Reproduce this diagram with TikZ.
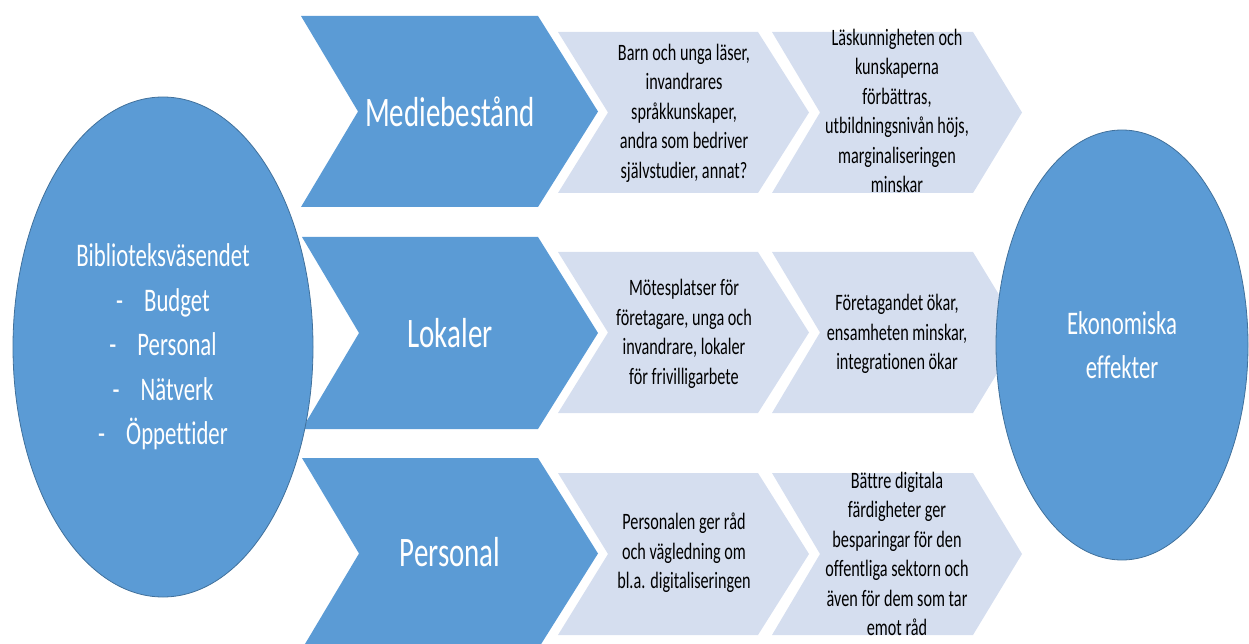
\documentclass[tikz,border=0pt]{standalone}
\usepackage{fontspec}
\setmainfont{Carlito}[FakeStretch=0.69, Ligatures={NoCommon}]
\usetikzlibrary{shapes.geometric}
\definecolor{mblue}{HTML}{5B9BD5}
\definecolor{mline}{HTML}{41719C}
\definecolor{mlight}{HTML}{D5DEEF}
\begin{document}
\begin{tikzpicture}[x=1pt,y=-1pt,
  bigchev/.style={fill=mblue},
  lightchev/.style={fill=mlight},
  bigtxt/.style={text=white, inner sep=0, font=\fontsize{42}{50}\selectfont},
  smalltxt/.style={text=black, align=center, inner sep=0, font=\fontsize{23.5}{29.5}\selectfont},
  ellnode/.style={ellipse, draw=mline, line width=0.8pt, fill=mblue, text=white, align=center, inner sep=0, font=\fontsize{33}{44.5}\selectfont}]
\useasboundingbox (0,0) rectangle (1249,644);
% big blue chevrons
\fill[bigchev] (301,16) -- (538,16) -- (598,111.5) -- (538,207) -- (301,207) -- (358,111.5) -- cycle;
\fill[bigchev] (302,237) -- (538,237) -- (598,333) -- (538,429) -- (302,429) -- (359,333) -- cycle;
\fill[bigchev] (302,458) -- (538,458) -- (598,553.5) -- (538,649) -- (302,649) -- (359,553.5) -- cycle;
% light chevrons, column 1
\fill[lightchev] (558,32) -- (758,32) -- (809,112.5) -- (758,193) -- (558,193) -- (608,112.5) -- cycle;
\fill[lightchev] (558,252) -- (758,252) -- (809,332.5) -- (758,413) -- (558,413) -- (608,332.5) -- cycle;
\fill[lightchev] (558,473) -- (758,473) -- (809,554) -- (758,635) -- (558,635) -- (608,554) -- cycle;
% light chevrons, column 2
\fill[lightchev] (772,32) -- (973,32) -- (1022,112.5) -- (973,193) -- (772,193) -- (820,112.5) -- cycle;
\fill[lightchev] (772,252) -- (973,252) -- (1022,332.5) -- (973,413) -- (772,413) -- (820,332.5) -- cycle;
\fill[lightchev] (772,473) -- (973,473) -- (1022,554) -- (973,635) -- (772,635) -- (820,554) -- cycle;
% big labels
\node[bigtxt] (medie) at (450,112) {Mediebestånd};
\node[bigtxt] (lokaler) at (450,333) {Lokaler};
\node[bigtxt] (personal) at (450,552) {Personal};
% column 1 texts
\node[smalltxt] (t11) at (684,113) {Barn och unga läser,\\invandrares\\språkkunskaper,\\andra som bedriver\\självstudier, annat?};
\node[smalltxt] (t21) at (684,334) {Mötesplatser för\\företagare, unga och\\invandrare, lokaler\\för frivilligarbete};
\node[smalltxt] (t31) at (684,553) {Personalen ger råd\\och vägledning om\\bl.a. digitaliseringen};
% column 2 texts
\node[smalltxt] (t12) at (897,111) {Läskunnigheten och\\kunskaperna\\förbättras,\\utbildningsnivån höjs,\\marginaliseringen\\minskar};
\node[smalltxt] (t22) at (897,334) {Företagandet ökar,\\ensamheten minskar,\\integrationen ökar};
\node[smalltxt] (t32) at (897,554) {Bättre digitala\\färdigheter ger\\besparingar för den\\offentliga sektorn och\\även för dem som tar\\emot råd};
% ellipses
\node[ellnode, minimum width=300pt, minimum height=500pt] (lib) at (163,347)
  {Biblioteksväsendet\\-\hspace{21pt}Budget\\-\hspace{21pt}Personal\\-\hspace{21pt}Nätverk\\-\hspace{21pt}Öppettider};
\node[ellnode, minimum width=252pt, minimum height=430pt] (eko) at (1122,345)
  {Ekonomiska\\effekter};
\end{tikzpicture}
\end{document}
